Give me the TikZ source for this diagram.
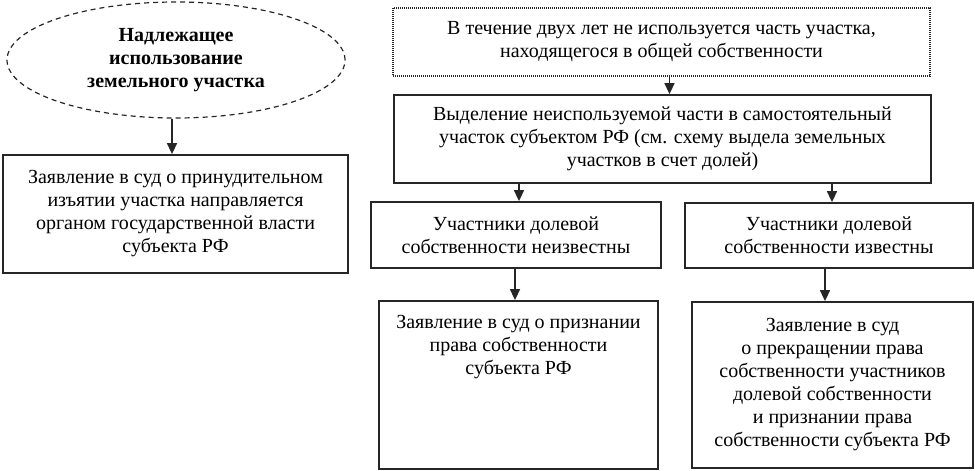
\documentclass[tikz,border=0pt]{standalone}
\usepackage{fontspec}
\setmainfont{Liberation Serif}
\usetikzlibrary{arrows.meta,shapes.geometric}

\begin{document}
\begin{tikzpicture}[x=1pt,y=-1pt,
    rectbox/.style={draw=black!85, line width=1.8pt, align=center, inner sep=0pt,
        font=\fontsize{20}{23}\selectfont},
    link/.style={draw=black!85, line width=1.6pt, -{Triangle[length=11pt,width=10pt]}}]
    \useasboundingbox (0,0) rectangle (975,471);

    % left branch
    \node[ellipse, draw=black!85, dash pattern=on 5pt off 4pt, line width=1.2pt,
        minimum width=338pt, minimum height=116pt, inner sep=0pt, align=center,
        font=\bfseries\fontsize{20}{23}\selectfont] (use) at (176,60)
        {Надлежащее\\использование\\земельного участка};
    \node[rectbox, minimum width=345pt, minimum height=118pt] (court) at (175.5,214)
        {Заявление в суд о принудительном\\изъятии участка направляется\\органом государственной власти\\субъекта РФ};

    % right branch
    \node[rectbox, line width=1.2pt, dash pattern=on 1pt off 1pt,
        minimum width=537pt, minimum height=68pt] (unused) at (661.5,42)
        {В течение двух лет не используется часть участка,\\находящегося в общей собственности};
    \node[rectbox, minimum width=537pt, minimum height=88pt] (split) at (662.5,139)
        {Выделение неиспользуемой части в самостоятельный\\участок субъектом РФ (см. схему выдела земельных\\участков в счет долей)};
    \node[rectbox, minimum width=290pt, minimum height=66pt] (unknown) at (516,235)
        {Участники долевой\\собственности неизвестны};
    \node[rectbox, minimum width=288pt, minimum height=65pt] (known) at (829,235.5)
        {Участники долевой\\собственности известны};
    \node[rectbox, minimum width=279pt, minimum height=168pt] (claim1) at (518.5,385)
        {\parbox[c][140pt][t]{270pt}{\centering Заявление в суд о признании\\права собственности\\субъекта РФ}};
    \node[rectbox, minimum width=281pt, minimum height=166pt] (claim2) at (832.5,385)
        {Заявление в суд\\о прекращении права\\собственности участников\\долевой собственности\\и признании права\\собственности субъекта РФ};

    % arrows
    \draw[link] ([xshift=-4pt]use.south) -- ([xshift=-4pt]use.south |- court.north);
    \draw[link] ([xshift=8pt]unused.south) -- ([xshift=8pt]unused.south |- split.north);
    \draw[link] (split.south -| unknown.north) ++(3pt,0) -- ([xshift=3pt]unknown.north);
    \draw[link] (split.south -| known.north) ++(3pt,0) -- ([xshift=3pt]known.north);
    \draw[link] ([xshift=-1pt]unknown.south) -- ([xshift=-1pt]unknown.south |- claim1.north);
    \draw[link] ([xshift=-4pt]known.south) -- ([xshift=-4pt]known.south |- claim2.north);
\end{tikzpicture}
\end{document}
